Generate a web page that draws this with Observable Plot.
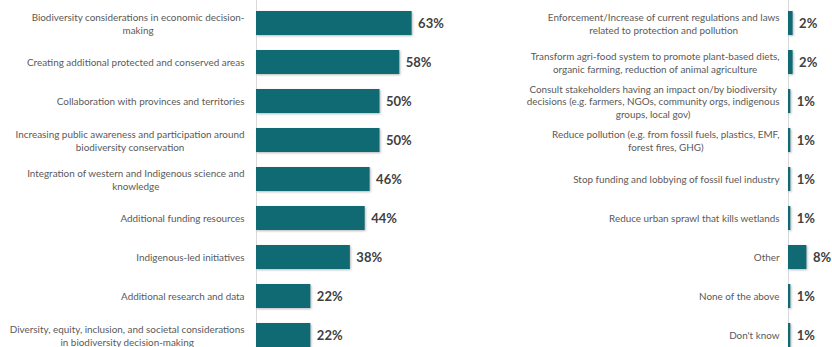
<!DOCTYPE html>
<html>
<head>
<meta charset="utf-8">
<script src="https://cdn.jsdelivr.net/npm/d3@7"></script>
<script src="https://cdn.jsdelivr.net/npm/@observablehq/plot@0.6"></script>
<style>
  html, body { margin: 0; padding: 0; background: #fff; }
  #wrap { position: relative; width: 832px; height: 347px; overflow: hidden; }
  #left { position: absolute; left: 0; top: 0; }
  #right { position: absolute; left: 503px; top: 0; }
</style>
</head>
<body>
<div id="wrap"><div id="left"></div><div id="right"></div></div>
<script>
const leftCategories = [
  "Biodiversity considerations in economic decision-\nmaking",
  "Creating additional protected and conserved areas",
  "Collaboration with provinces and territories",
  "Increasing public awareness and participation around\nbiodiversity conservation",
  "Integration of western and Indigenous science and\nknowledge",
  "Additional funding resources",
  "Indigenous-led initiatives",
  "Additional research and data",
  "Diversity, equity, inclusion, and societal considerations\nin biodiversity decision-making"
];
const leftValues = [63, 58, 50, 50, 46, 44, 38, 22, 22];

const rightCategories = [
  "Enforcement/Increase of current regulations and laws\nrelated to protection and pollution",
  "Transform agri-food system to promote plant-based diets,\norganic farming, reduction of animal agriculture",
  "Consult stakeholders having an impact on/by biodiversity\ndecisions (e.g. farmers, NGOs, community orgs, indigenous\ngroups, local gov)",
  "Reduce pollution (e.g. from fossil fuels, plastics, EMF,\nforest fires, GHG)",
  "Stop funding and lobbying of fossil fuel industry",
  "Reduce urban sprawl that kills wetlands",
  "Other",
  "None of the above",
  "Don't know"
];
const rightValues = [2, 2, 1, 1, 1, 1, 8, 1, 1];

const BAR = "#0f6a74";
const LABEL = "#595959";
const VALUE = "#404040";
const FONT = "Lato, 'Open Sans', sans-serif";

function panel(cats, vals, opt) {
  const data = cats.map((c, i) => ({cat: c, v: vals[i]}));
  return Plot.plot({
    width: opt.width,
    height: 347,
    marginLeft: opt.marginLeft,
    marginRight: 0,
    marginTop: 0,
    marginBottom: 0,
    style: {fontFamily: FONT, background: "transparent", overflow: "visible"},
    x: {domain: [0, opt.xmax], axis: null},
    y: {domain: cats, range: [2, 355], paddingInner: 0.39, paddingOuter: 0.195, axis: null},
    marks: [
      Plot.ruleX([0], {stroke: "#d9d9d9", strokeWidth: 1}),
      Plot.barX(data, {x: "v", y: "cat", fill: BAR}),
      Plot.axisY({
        tickSize: 0,
        tickPadding: opt.pad,
        fontSize: 9.9,
        lineHeight: 1.25,
        fill: LABEL,
        label: null
      }),
      Plot.text(data, {
        x: "v", y: "cat", text: d => d.v + "%",
        textAnchor: "start", dx: opt.dx,
        fontSize: 13, fontWeight: "bold", fill: VALUE
      })
    ]
  });
}

const L = panel(leftCategories, leftValues, {width: 500, marginLeft: 256, xmax: 244 / 2.47, pad: 12, dx: 6});
const R = panel(rightCategories, rightValues, {width: 329, marginLeft: 285, xmax: 44 / 2.3, pad: 9, dx: 6});
document.getElementById("left").appendChild(L);
document.getElementById("right").appendChild(R);

// Excel-like soft shadow on bars, and lines centred inside multi-line labels
for (const svg of [L, R]) {
  d3.select(svg).selectAll("g[aria-label='bar']").style("filter", "drop-shadow(1px 1.5px 1px rgba(0,0,0,0.28))");
  d3.select(svg).selectAll("g[aria-label='y-axis tick label'] text").each(function() {
    const spans = Array.from(this.querySelectorAll("tspan"));
    if (spans.length < 2) return;
    const widths = spans.map(s => s.getComputedTextLength());
    const maxW = Math.max(...widths);
    spans.forEach((s, i) => {
      const x0 = +(s.getAttribute("x") || 0);
      s.setAttribute("x", x0 - (maxW - widths[i]) / 2);
    });
  });
}
</script>
</body>
</html>
